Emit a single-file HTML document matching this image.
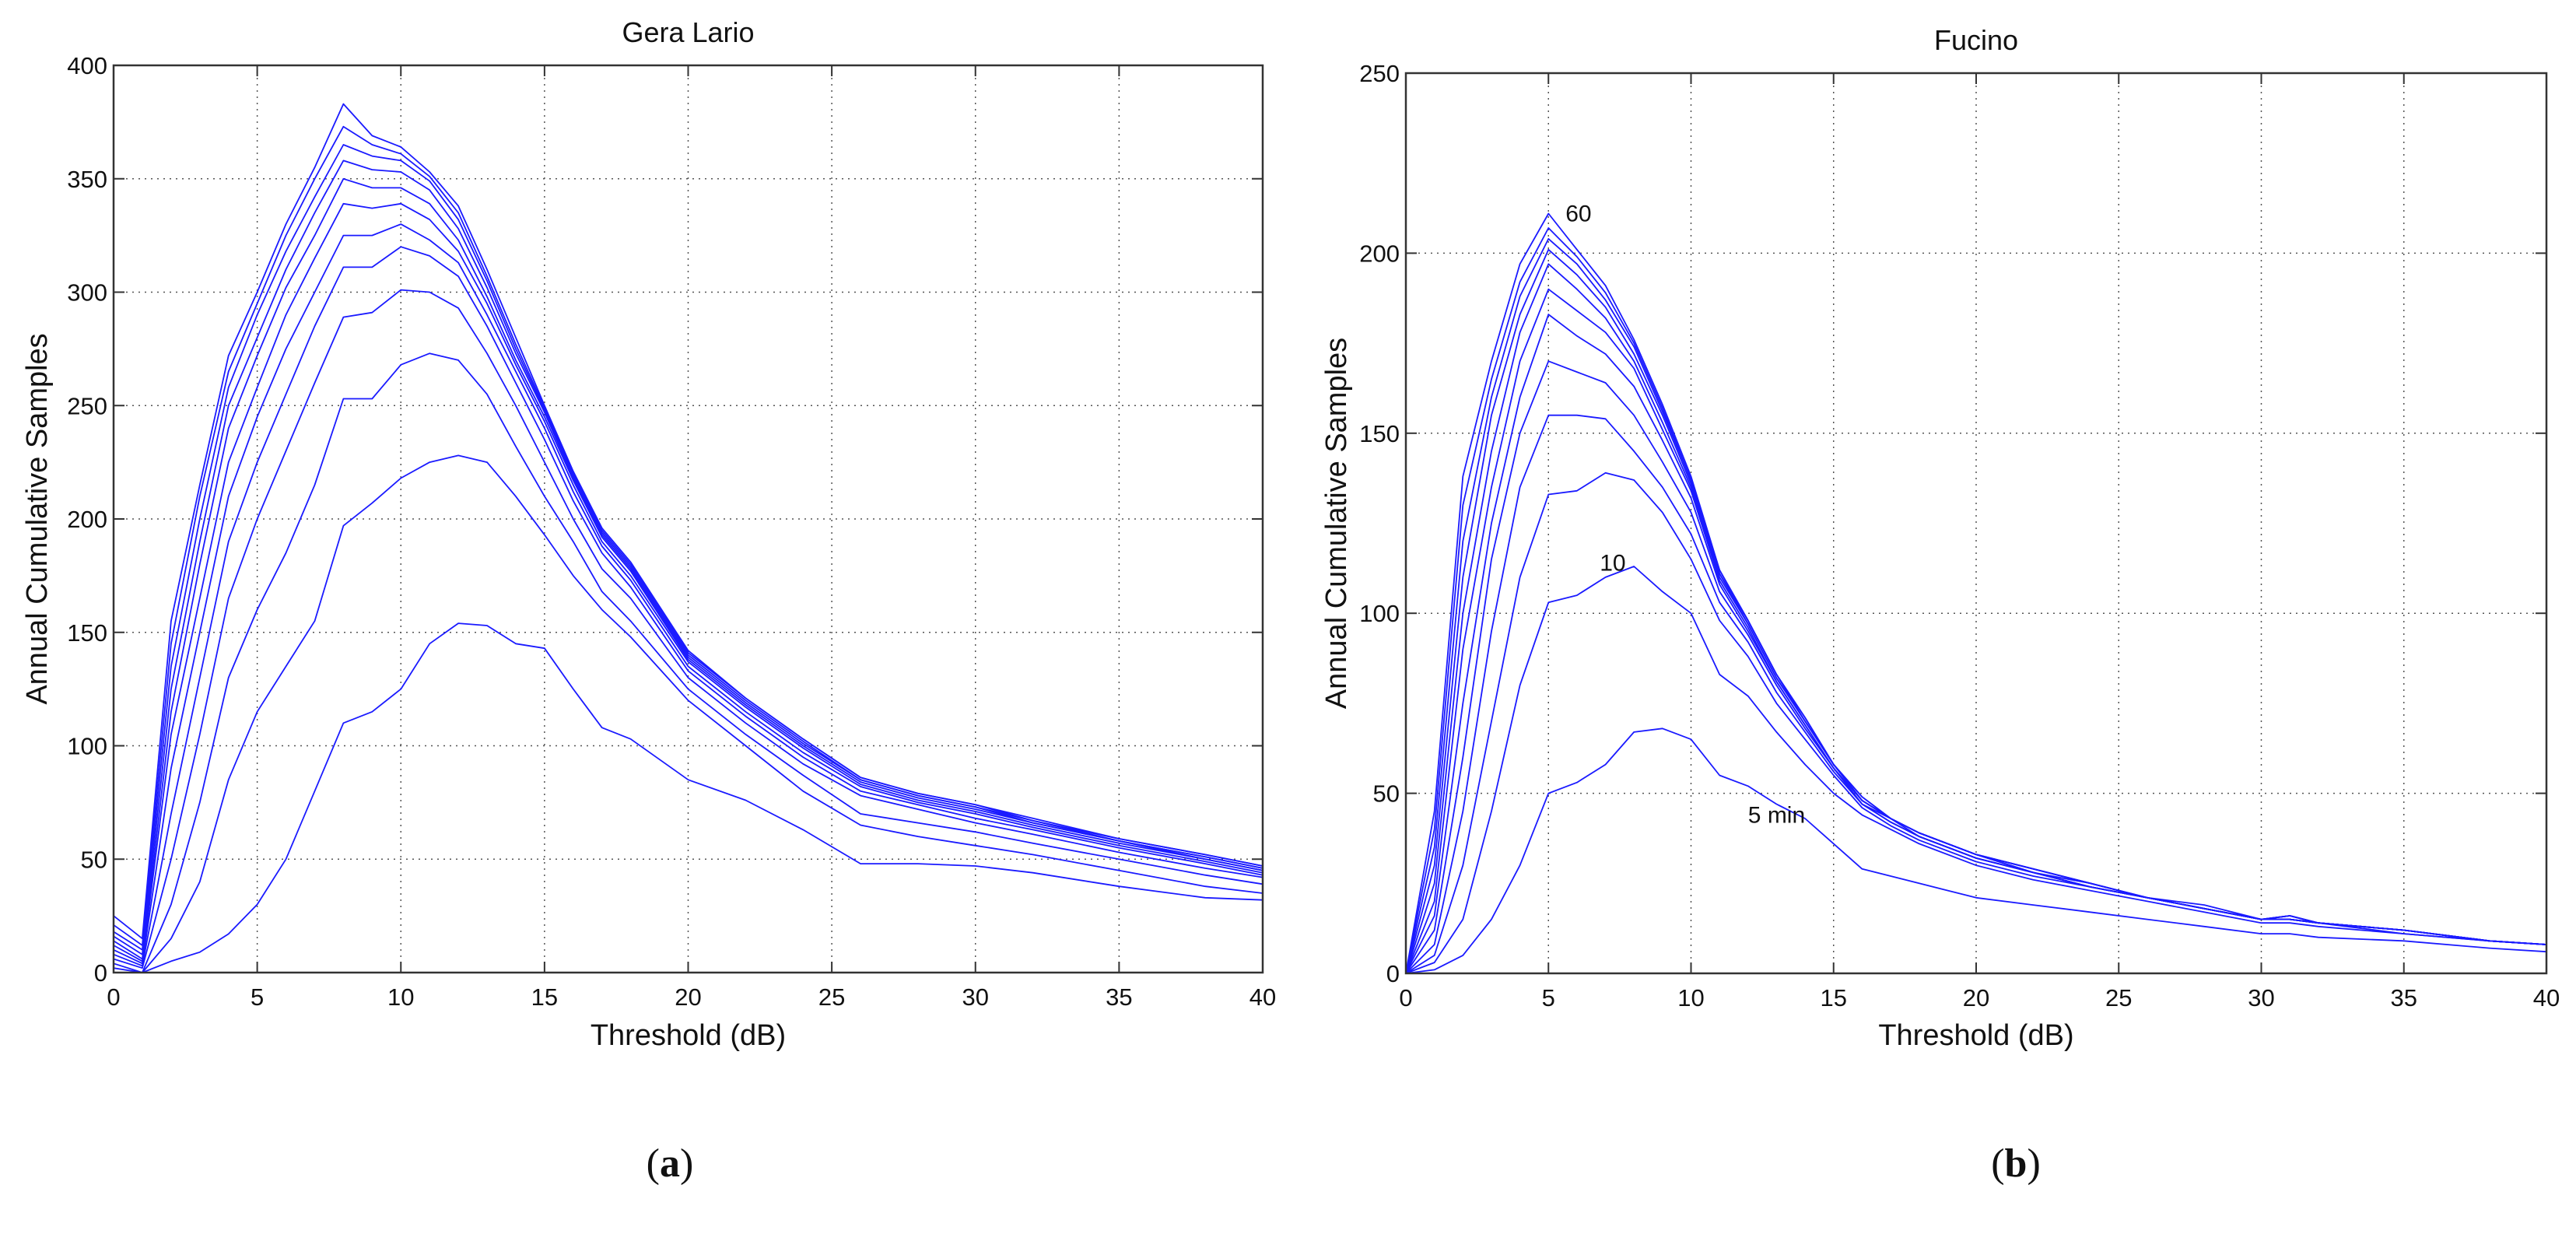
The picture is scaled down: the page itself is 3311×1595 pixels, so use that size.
<!DOCTYPE html>
<html><head><meta charset="utf-8"><style>
html,body{margin:0;padding:0;background:#fff;}
svg{display:block;}
text{font-family:"Liberation Sans",sans-serif;fill:#111;}
</style></head><body>
<svg id="fig" width="3311" height="1595" viewBox="0 0 3311 1595" xmlns="http://www.w3.org/2000/svg">
<g id="chartA"></g>
<g id="chartB"></g>
<text x="861" y="1512" font-size="52" text-anchor="middle" style="font-family:'Liberation Serif',serif">(<tspan font-weight="bold">a</tspan>)</text>
<text x="2591" y="1512" font-size="52" text-anchor="middle" style="font-family:'Liberation Serif',serif">(<tspan font-weight="bold">b</tspan>)</text>
</svg>
<script>
// ---- Gera Lario data ----
const xA = [0,1,2,3,4,5,6,7,8,9,10,11,12,13,14,15,16,17,18,20,22,24,26,28,30,32,35,38,40];
const a1 = [0,0,5,9,17,30,50,80,110,115,125,145,154,153,145,143,125,108,103,85,76,63,48,48,47,44,38,33,32];
const a2 = [2,0,15,40,85,115,135,155,197,207,218,225,228,225,210,193,175,160,148,120,100,80,65,60,56,52,45,38,35];
const a3 = [4,0,30,75,130,160,185,215,253,253,268,273,270,255,232,210,190,168,155,125,105,87,70,66,62,57,50,43,39];
const a4 = [6,2,50,105,165,200,230,260,289,291,301,300,293,273,250,225,200,178,165,130,110,92,78,72,66,61,53,46,42];
const a5 = [8,3,70,130,190,225,255,285,311,311,320,316,307,285,260,235,208,185,170,133,113,95,80,74,68,63,55,48,43];
const a6 = [10,4,90,150,210,245,275,300,325,325,330,323,313,290,265,240,212,188,173,135,115,97,82,75,70,64,56,49,44];
const a7 = [12,5,105,165,225,258,290,315,339,337,339,332,318,295,268,243,215,190,175,137,117,99,83,76,71,65,57,50,45];
const a8 = [14,6,115,180,240,272,302,325,350,346,346,339,323,298,270,245,217,192,177,138,118,100,84,77,72,66,58,50,45];
const a9 = [16,8,125,190,250,280,310,335,358,354,353,345,328,302,273,247,218,193,178,139,119,101,85,78,73,66,58,51,46];
const a10 = [18,10,135,200,258,290,318,342,365,360,358,349,332,305,275,248,219,194,179,140,120,102,85,78,73,67,58,51,46];
const a11 = [21,12,145,210,265,295,325,350,373,365,361,351,335,307,277,249,220,195,180,141,121,103,86,79,74,67,59,52,47];
const a12 = [25,15,155,215,272,300,330,355,383,369,364,353,338,310,280,250,221,196,181,142,121,103,86,79,74,68,59,52,47];
const seriesA = [a1,a2,a3,a4,a5,a6,a7,a8,a9,a10,a11,a12];
const yTicksA = [0,50,100,150,200,250,300,350,400];
const xTicks = [0,5,10,15,20,25,30,35,40];

// ---- Fucino data ----
const xB = [0,1,2,3,4,5,6,7,8,9,10,11,12,13,14,15,16,17,18,20,22,24,26,28,30,31,32,35,38,40];
const b1 = [0,1,5,15,30,50,53,58,67,68,65,55,52,47,43,36,29,27,25,21,19,17,15,13,11,11,10,9,7,6];
const b2 = [0,3,15,45,80,103,105,110,113,106,100,83,77,67,58,50,44,40,36,30,26,23,20,17,14,14,13,11,9,8];
const b3 = [0,5,30,70,110,133,134,139,137,128,115,98,88,75,65,55,46,41,37,31,27,24,21,18,15,15,14,11,9,8];
const b4 = [0,8,45,95,135,155,155,154,145,135,122,103,92,78,67,56,47,42,38,32,28,24,21,18,15,15,14,12,9,8];
const b5 = [0,12,60,115,150,170,167,164,155,142,128,106,94,80,68,57,47,42,38,32,28,24,21,18,15,15,14,12,9,8];
const b6 = [0,16,75,125,160,183,177,172,163,148,132,108,95,81,69,57,47,43,38,32,28,24,21,18,15,15,14,12,9,8];
const b7 = [0,20,90,135,170,190,184,178,168,151,134,109,96,81,69,57,48,43,39,33,28,24,21,18,15,15,14,12,9,8];
const b8 = [0,25,100,145,178,197,190,182,170,153,135,110,97,82,70,58,48,43,39,33,28,25,21,18,15,15,14,12,9,8];
const b9 = [0,30,110,155,183,201,194,185,172,155,136,111,97,82,70,58,48,43,39,33,29,25,21,18,15,16,14,12,9,8];
const b10 = [0,35,120,160,188,204,197,187,174,156,137,111,98,83,70,58,48,43,39,33,29,25,21,18,15,16,14,12,9,8];
const b11 = [0,40,130,165,192,207,199,189,175,157,137,112,98,83,71,58,49,43,39,33,29,25,21,18,15,16,14,12,9,8];
const b12 = [0,45,138,170,197,211,201,191,176,158,138,112,98,83,71,58,49,43,39,33,29,25,21,19,15,16,14,12,9,8];
const seriesB = [b1,b2,b3,b4,b5,b6,b7,b8,b9,b10,b11,b12];
const yTicksB = [0,50,100,150,200,250];
const annotB = ["60","10","5 min"];
const annotBx = [5.6,6.8,12];
const annotBy = [211,114,44];

const NS = "http://www.w3.org/2000/svg";
function mk(tag, attrs, parent){
  const e = document.createElementNS(NS, tag);
  for (const k in attrs) e.setAttribute(k, attrs[k]);
  parent.appendChild(e);
  return e;
}

function drawChart(g, cfg){
  const L=cfg.L, R=cfg.R, T=cfg.T, B=cfg.B;
  const sx = v => L + (v - 0) / 40 * (R - L);
  const sy = v => B - v / cfg.yMax * (B - T);
  // grid
  cfg.xTicks.forEach(t=>{
    if (t===0 || t===40) return;
    const l = mk('line',{x1:sx(t),x2:sx(t),y1:T,y2:B,stroke:'#555','stroke-width':1.5,'stroke-dasharray':'2 6'},g);
    
    
  });
  cfg.yTicks.forEach(t=>{
    if (t===0 || t===cfg.yMax) return;
    const l = mk('line',{x1:L,x2:R,y1:sy(t),y2:sy(t),stroke:'#555','stroke-width':1.5,'stroke-dasharray':'2 6'},g);
    
    
  });
  // series
  cfg.series.forEach((s,i)=>{
    const d = s.map((v,j)=>(j?'L':'M')+sx(cfg.xs[j]).toFixed(1)+' '+sy(v).toFixed(1)).join(' ');
    const p = mk('path',{d:d,fill:'none',stroke:'#1a1aff','stroke-width':1.8,'stroke-linejoin':'round'},g);
    
    
  });
  // box
  const box = mk('rect',{x:L,y:T,width:R-L,height:B-T,fill:'none',stroke:'#333','stroke-width':2.5},g);
  
  
  // ticks + labels
  cfg.xTicks.forEach(t=>{
    mk('line',{x1:sx(t),x2:sx(t),y1:B,y2:B-14,stroke:'#333','stroke-width':2},g);
    mk('line',{x1:sx(t),x2:sx(t),y1:T,y2:T+14,stroke:'#333','stroke-width':2},g);
    const tx = mk('text',{x:sx(t),y:B+42,'font-size':31,'text-anchor':'middle'},g);
    tx.textContent = t;
    
    
  });
  cfg.yTicks.forEach(t=>{
    mk('line',{x1:L,x2:L+14,y1:sy(t),y2:sy(t),stroke:'#333','stroke-width':2},g);
    mk('line',{x1:R,x2:R-14,y1:sy(t),y2:sy(t),stroke:'#333','stroke-width':2},g);
    const tx = mk('text',{x:L-8,y:sy(t)+11,'font-size':31,'text-anchor':'end'},g);
    tx.textContent = t;
    
    
  });
  const title = mk('text',{x:(L+R)/2,y:cfg.titleY,'font-size':36,'text-anchor':'middle'},g);
  title.textContent = cfg.title;
  
  
  const xl = mk('text',{x:(L+R)/2,y:1343,'font-size':38,'text-anchor':'middle'},g);
  xl.textContent = 'Threshold (dB)';
  
  
  const yc = (T+B)/2;
  const yl = mk('text',{x:cfg.ylX,y:yc,'font-size':38,'text-anchor':'middle',transform:'rotate(-90 '+cfg.ylX+' '+yc+')'},g);
  yl.textContent = 'Annual Cumulative Samples';
  
  
  if (cfg.annot){
    cfg.annot.forEach((s,i)=>{
      const t = mk('text',{x:sx(cfg.annotX[i]),y:sy(cfg.annotY[i])+10,'font-size':30,'text-anchor':'start'},g);
      t.textContent = s;
      
      
    });
  }
}

drawChart(document.getElementById('chartA'), {L:146,R:1623,T:84,B:1250,yMax:400,xs:xA,series:seriesA,
  xTicks:xTicks,yTicks:yTicksA,title:'Gera Lario',titleY:54,ylX:60});
drawChart(document.getElementById('chartB'), {L:1807,R:3273,T:94,B:1251,yMax:250,xs:xB,series:seriesB,
  xTicks:xTicks,yTicks:yTicksB,title:'Fucino',titleY:64,ylX:1730,
  annot:annotB,annotX:annotBx,annotY:annotBy});
</script>
</body></html>
